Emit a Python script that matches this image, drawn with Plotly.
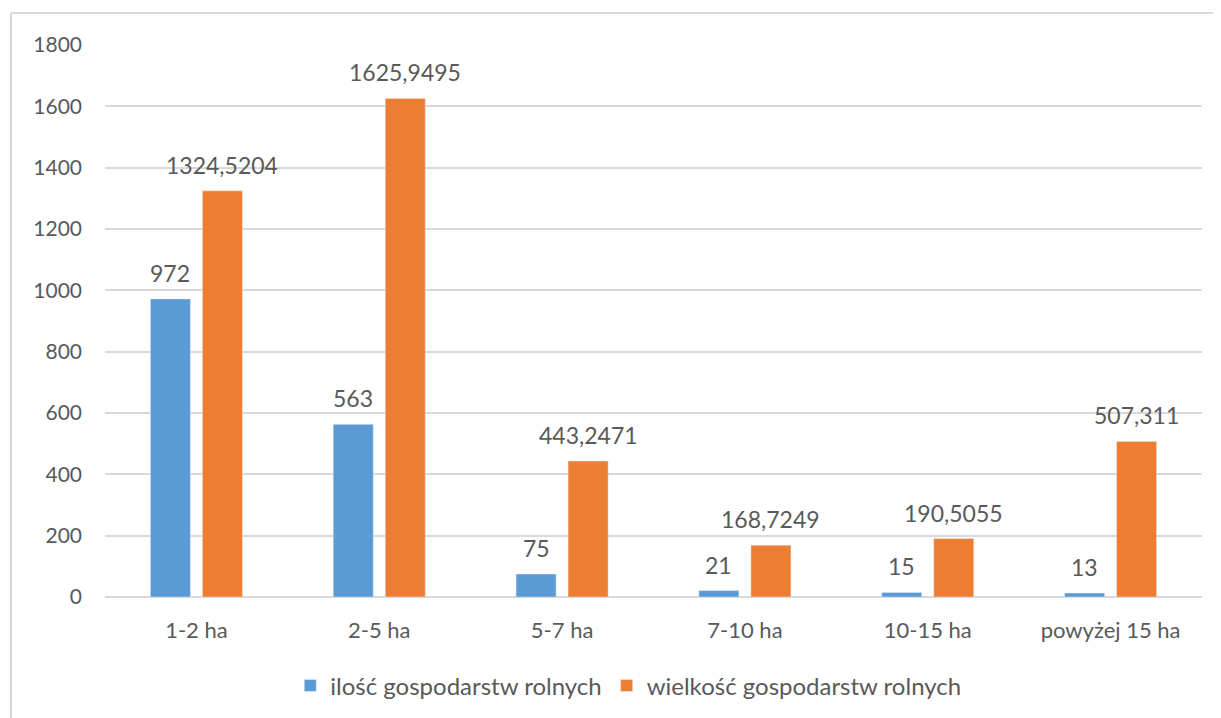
import plotly.graph_objects as go

categories = ["1-2 ha", "2-5 ha", "5-7 ha", "7-10 ha", "10-15 ha", "powyżej 15 ha"]
ilosc = [972, 563, 75, 21, 15, 13]
wielkosc = [1324.5204, 1625.9495, 443.2471, 168.7249, 190.5055, 507.311]
ilosc_labels = ["972", "563", "75", "21", "15", "13"]
wielkosc_labels = ["1324,5204", "1625,9495", "443,2471", "168,7249", "190,5055", "507,311"]
series_names = ["ilość gospodarstw rolnych", "wielkość gospodarstw rolnych"]
y_ticks = [0, 200, 400, 600, 800, 1000, 1200, 1400, 1600, 1800]

BLUE = "#5B9BD5"
ORANGE = "#ED7D31"
TXT = "#595959"
GRID = "#D9D9D9"
FONT = "Lato"

fig = go.Figure()
fig.add_trace(go.Bar(x=categories, y=ilosc, name=series_names[0], marker_color=BLUE))
fig.add_trace(go.Bar(x=categories, y=wielkosc, name=series_names[1], marker_color=ORANGE))

annotations = []
for c, v, t in zip(categories, ilosc, ilosc_labels):
    annotations.append(dict(x=c, y=v, text=t, xref="x", yref="y", showarrow=False,
                            xshift=-26, yshift=10, yanchor="bottom",
                            font=dict(family=FONT, size=23, color=TXT)))
for c, v, t in zip(categories, wielkosc, wielkosc_labels):
    annotations.append(dict(x=c, y=v, text=t, xref="x", yref="y", showarrow=False,
                            xshift=26, yshift=10, yanchor="bottom",
                            font=dict(family=FONT, size=23, color=TXT)))

fig.update_layout(
    width=1221, height=718,
    margin=dict(l=97, r=27, t=37, b=129),
    paper_bgcolor="white", plot_bgcolor="white",
    font=dict(family=FONT, size=21, color=TXT),
    barmode="group", bargap=0.431, bargroupgap=0.23,
    showlegend=True,
    legend=dict(orientation="h", x=0.477, xanchor="center", y=-0.161, yanchor="middle",
                font=dict(family=FONT, size=24, color=TXT), itemwidth=30,
                traceorder="normal"),
    annotations=annotations,
    shapes=[
        dict(type="line", xref="paper", yref="paper", x0=-0.0857, x1=-0.0857, y0=1.058, y1=-0.35,
             line=dict(color=GRID, width=2)),
        dict(type="line", xref="paper", yref="paper", x0=-0.0857, x1=1.05, y0=1.058, y1=1.058,
             line=dict(color=GRID, width=2)),
    ],
)
fig.update_xaxes(showgrid=False, showline=False, ticks="", ticklabelstandoff=18, automargin=False,
                 tickfont=dict(family=FONT, size=22, color=TXT))
fig.update_yaxes(range=[0, 1800], tickvals=y_ticks, showgrid=True, gridcolor=GRID, gridwidth=1.5,
                 zeroline=True, zerolinecolor=GRID, zerolinewidth=1.5, showline=False,
                 ticks="", ticklabelstandoff=22, automargin=False,
                 tickfont=dict(family=FONT, size=21, color=TXT))

fig.write_html("out.html")
